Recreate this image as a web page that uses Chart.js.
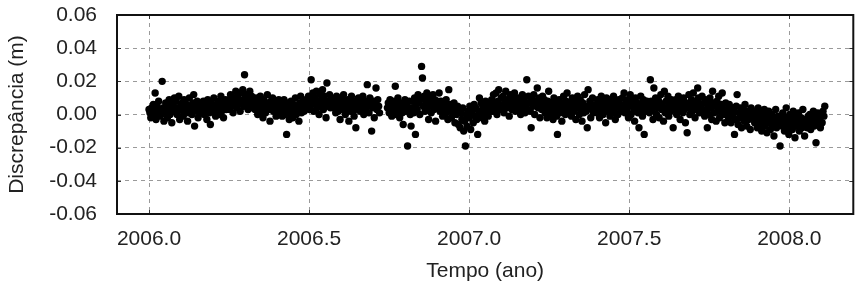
<!DOCTYPE html>
<html><head><meta charset="utf-8">
<script src="https://cdn.jsdelivr.net/npm/chart.js@4"></script>
<style>html,body{margin:0;padding:0;background:#fff;overflow:hidden}#wrap{width:857px;height:294px;position:relative}</style>
</head><body><div id="wrap"><canvas id="c" width="857" height="294"></canvas></div>
<script>
// Daily solutions starting at 2006.0 (one value per day, null = no solution)
const firstEpoch = 2006.0;
const daysPerYear = 365.25;
// Discrepancy values in millimetres, one per day
const discrepancyMm = [
  3, 1, -2, 4, 0, 6, 2, 13, -3, 5, 1, 8, -1, 3, 0, 20, 4, -4, 2, 7, 1, -2, 5, 9, 0, 3, -5, 6, 2, 10,
  4, 8, 0, 2, 11, -3, 5, 3, 7, -1, 9, 2, 4, 6, -4, 1, 10, 3, 5, 0, 7, 12, -7, 4, 2, 8, -2, 6, 3, 1,
  5, 2, 8, 0, 6, 3, -3, 9, 4, 1, -6, 7, 5, 2, 10, 3, -1, 6, 4, 8, 0, 5, 11, 2, 7, -2, 4, 9, 3, 6,
  6, 9, 3, 12, 5, 8, 1, 10, 7, 14, 4, 11, 6, 9, 2, 13, 8, 15, 5, 24, 10, 7, 12, 3, 9, 14, 6, 11, 4, 8,
  7, 3, 10, 5, 0, 8, 4, 11, 2, 6, -2, 9, 5, 1, 7, 12, 3, 6, -4, 8, 4, 10, 2, 5, 7, -1, 6, 3, 9, 4,
  2, 6, -1, 4, 9, 0, 5, -12, 3, 7, -3, 1, 8, 4, -2, 6, 2, 10, 0, 5, 3, -4, 7, 11, 1, 4, 8, 2, 6, 9,
  8, 5, 11, 3, 9, 21, 6, 13, 2, 10, 7, 14, 4, 8, 0, 12, 6, 9, 15, 3, 11, 7, -2, 19, 8, 5, 12, 4, 10, 6,
  9, 4, 7, 1, 11, 5, 2, 8, -3, 6, 10, 3, 12, 5, 0, 7, 4, 9, -4, 6, 2, 11, 5, 8, -1, 3, -8, 7, 4, 10,
  6, 2, 9, 4, 11, 0, 7, 3, 8, 18, 5, 1, 10, 6, -10, 4, 8, -2, 7, 16, 3, 9, 5, 1, null, null, null, null, null, null,
  null, null, 4, 7, 1, 9, 3, -1, 6, 2, 8, 17, 0, 5, 10, 3, -2, 7, 4, 1, -6, 6, 9, 2, 5, -19, 3, 8, 0, -7,
  4, 8, 1, 10, -12, 6, 3, 12, 7, 0, 9, 29, 22, 5, 11, 2, 8, 13, 4, -3, 7, 10, 1, 6, 12, 3, 9, -4, 5, 8,
  6, 13, 2, 8, 4, -1, 7, 3, 0, 9, 5, -3, 15, 2, 6, -2, 4, 1, 7, -5, 3, 0, 5, -6, 2, -8, 1, -3, 4, -10,
  -4, -19, 0, -7, 2, -2, 5, -9, 1, 3, -5, 6, -1, 4, -3, -12, 2, 10, 0, 7, -2, 5, 3, -4, 8, 1, 6, -1, 4, 2,
  5, 9, 2, 12, 7, 4, 13, 0, 8, 15, 6, 3, 10, 5, 11, 1, 7, 14, 4, 9, 6, -1, 12, 8, 3, 10, 5, 13, 2, 7,
  8, 3, 10, 5, 0, 7, 12, 4, 9, 1, 6, 21, 3, 11, 7, 2, -8, 9, 5, 12, 0, 6, 8, 16, 4, 10, -2, 7, 3, 11,
  4, 9, 1, 6, -2, 8, 14, 3, 0, 7, 5, -3, 10, 2, 6, -1, -12, 4, 9, 1, 7, -4, 3, 11, 5, 0, 8, 13, 2, 6,
  3, 7, -1, 10, 5, 2, 8, -3, 4, 11, 6, 0, 9, 3, -4, 7, 1, 12, 5, 2, -8, 15, 4, 8, -2, 6, 10, 1, 5, 3,
  6, 1, 9, 4, -2, 7, 11, 3, 0, 8, 5, -5, 10, 2, 6, 9, -1, 4, 7, 1, 11, 3, -3, 8, 5, 0, 9, 4, 6, 2,
  10, 4, 13, 1, 7, 3, 9, -2, 5, 12, 0, 6, 8, 2, -4, 10, 4, 7, 1, -8, 6, 11, 3, -1, 9, -12, 5, 2, 8, 4,
  5, 1, 21, 8, 3, -3, 16, 6, 10, 0, 4, 9, -2, 7, 12, 3, 5, -4, 14, 1, 8, 4, 11, -1, 6, 2, 9, 3, -8, 7,
  4, 9, 0, 6, 11, 2, -3, 8, 5, 1, 10, 3, -5, 7, -11, 4, 12, 0, 6, 9, 2, 13, 5, -2, 8, 3, 16, 10, 1, 6,
  5, 11, 2, 7, -1, 9, 3, -8, 6, 0, 10, 4, -3, 14, 7, 1, 5, -4, 8, 2, 11, -2, 4, 6, 13, 0, 3, -5, 7, 1,
  3, -2, 6, 0, -5, 4, -1, 2, -12, -3, 5, 12, -6, 1, -2, 4, -8, 0, 3, -4, 6, -1, -7, 2, -3, 1, -9, 4, -2, 0,
  -1, -5, 2, -3, -8, 4, -2, 1, -6, -10, 0, -4, 3, -7, -2, -11, -1, 2, -5, -9, -3, 0, -6, -13, -2, 3, -8, -4, -1, -6,
  -19, -3, -7, 1, -5, -10, -2, 4, -8, -4, -12, 0, -6, -3, -9, 2, -5, -14, -1, -7, -4, 1, -10, -6, -2, -8, 3, -5, -13, -3,
  -4, -8, -1, -6, 0, -9, -3, -5, 2, -7, -2, -17, -4, 1, -6, -3, -8, 0, -5, 2, -1, 5
];
const xTicks = [2006.0, 2006.5, 2007.0, 2007.5, 2008.0];
const yTicks = [-0.06, -0.04, -0.02, 0.00, 0.02, 0.04, 0.06];
const xRange = [2005.9, 2008.2];
const yRange = [-0.06, 0.06];
const xTitle = 'Tempo (ano)';
const yTitle = 'Discrepância (m)';

const points = [];
discrepancyMm.forEach((v, i) => {
  if (v !== null) points.push({ x: firstEpoch + i / daysPerYear, y: v / 1000 });
});

const framePlugin = {
  id: 'frame',
  afterDraw(chart) {
    const { ctx, chartArea: a, scales } = chart;
    ctx.save();
    ctx.setLineDash([]);
    ctx.lineWidth = 1;
    ctx.strokeStyle = '#333';
    ctx.beginPath();
    xTicks.forEach(v => {
      const x = Math.round(scales.x.getPixelForValue(v)) + 0.5;
      ctx.moveTo(x, a.top); ctx.lineTo(x, a.top + 4);
      ctx.moveTo(x, a.bottom); ctx.lineTo(x, a.bottom - 4);
    });
    yTicks.forEach(v => {
      const y = Math.round(scales.y.getPixelForValue(v)) + 0.5;
      ctx.moveTo(a.left, y); ctx.lineTo(a.left + 4, y);
      ctx.moveTo(a.right, y); ctx.lineTo(a.right - 4, y);
    });
    ctx.stroke();
    ctx.lineWidth = 2;
    ctx.strokeStyle = '#111';
    ctx.strokeRect(a.left, a.top, a.right - a.left, a.bottom - a.top);
    ctx.restore();
  }
};

Chart.defaults.font.family = '"Liberation Sans", Arial, sans-serif';
Chart.defaults.color = '#222';

new Chart(document.getElementById('c'), {
  type: 'scatter',
  data: {
    datasets: [{
      data: points,
      backgroundColor: '#000',
      borderColor: '#000',
      pointRadius: 3.7,
      pointBorderWidth: 0,
      pointHoverRadius: 3.7
    }]
  },
  options: {
    responsive: false,
    animation: false,
    devicePixelRatio: 1,
    layout: { padding: { top: 15, right: 2, left: 0, bottom: 0 } },
    plugins: { legend: { display: false }, tooltip: { enabled: false } },
    scales: {
      x: {
        type: 'linear',
        min: xRange[0], max: xRange[1],
        afterBuildTicks: s => { s.ticks = xTicks.map(v => ({ value: v })); },
        ticks: { callback: v => Number(v).toFixed(1), font: { size: 21 }, padding: 13, maxRotation: 0, autoSkip: false },
        grid: { color: '#9a9a9a', lineWidth: 1, drawTicks: false },
        border: { display: false, dash: [4, 4] },
        title: { display: true, text: xTitle, font: { size: 21 }, padding: { top: 0, bottom: 10 } },
        afterFit: s => { s.height = 80; }
      },
      y: {
        min: yRange[0], max: yRange[1],
        afterBuildTicks: s => { s.ticks = yTicks.map(v => ({ value: v })); },
        ticks: { callback: v => Number(v).toFixed(2), font: { size: 21 }, padding: 20, autoSkip: false },
        grid: { color: '#9a9a9a', lineWidth: 1, drawTicks: false },
        border: { display: false, dash: [4, 4] },
        title: { display: true, text: yTitle, font: { size: 21 }, padding: { top: 5, bottom: 0 } },
        afterFit: s => { s.width = 117; s.paddingTop = 13; s.paddingBottom = 13; }
      }
    }
  },
  plugins: [framePlugin]
});
</script>
</body></html>
